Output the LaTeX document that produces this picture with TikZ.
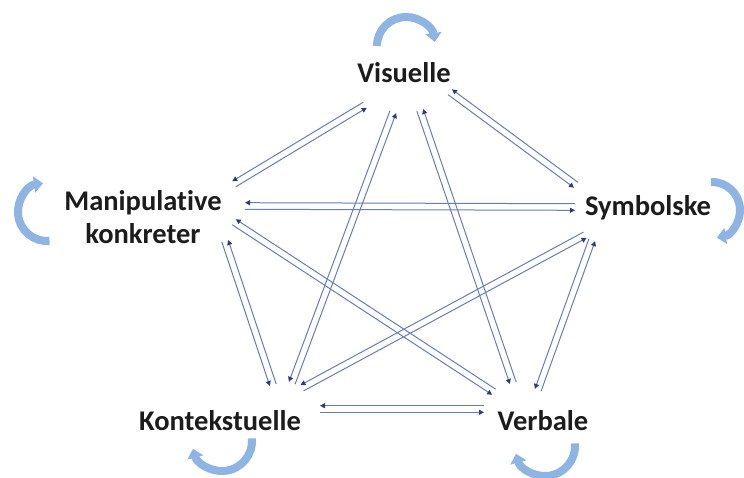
\documentclass[tikz,border=0pt]{standalone}
\usepackage{fontspec}
\setmainfont[Ligatures=NoCommon]{Carlito}
\usetikzlibrary{arrows.meta,calc}

\definecolor{linkblue}{RGB}{105,125,180}
\definecolor{tipblue}{RGB}{45,60,120}
\definecolor{cycleblue}{RGB}{142,180,227}
\definecolor{labelink}{RGB}{28,28,28}

% two parallel arrows between two named ends, one in each direction
\newcommand\twoway[2]{%
  \draw[link] ($(#1)!3.3pt!-90:(#2)$) -- ($(#2)!3.3pt!90:(#1)$);
  \draw[link] ($(#2)!3.3pt!-90:(#1)$) -- ($(#1)!3.3pt!90:(#2)$);}

\tikzset{
  lbl/.style={text=labelink, font=\fontsize{28.5}{33}\selectfont\bfseries, inner sep=0pt},
  link/.style={draw=linkblue, line width=1pt,
    -{Triangle[length=5pt,width=5pt,color=tipblue]}},
  cyclearrow/.style={draw=cycleblue, line width=8pt,
    -{Triangle[length=9pt,width=16pt]}}
}

\begin{document}
\begin{tikzpicture}[x=1pt,y=-1pt]
\useasboundingbox (0,0) rectangle (744,477);
\fill[white] (0,0) rectangle (744,477);

% labels
\node[lbl,anchor=base] (vis) at (404,82) {Visuelle};
\node[lbl,align=center] (man) at (143,217) {Manipulative\\konkreter};
\node[lbl,anchor=base] (sym) at (648,215) {Symbolske};
\node[lbl,anchor=base] (kon) at (220,430) {Kontekstuelle};
\node[lbl,anchor=base] (ver) at (543,430) {Verbale};

% connector ends around each label
\coordinate (vis-man) at (365,105);
\coordinate (man-vis) at (234,184);
\coordinate (vis-sym) at (450,92);
\coordinate (sym-vis) at (576,185);
\coordinate (vis-kon) at (393,112);
\coordinate (kon-vis) at (292,383);
\coordinate (vis-ver) at (420,110);
\coordinate (ver-vis) at (513,383);
\coordinate (man-sym) at (245,206);
\coordinate (sym-man) at (575,207);
\coordinate (man-kon) at (225,241);
\coordinate (kon-man) at (273,385);
\coordinate (man-ver) at (234,222);
\coordinate (ver-man) at (494,392);
\coordinate (sym-kon) at (585,235);
\coordinate (kon-sym) at (302,388);
\coordinate (sym-ver) at (592,240);
\coordinate (ver-sym) at (538,390);
\coordinate (kon-ver) at (320,409);
\coordinate (ver-kon) at (484,409);

\twoway{vis-man}{man-vis}
\twoway{vis-sym}{sym-vis}
\twoway{vis-kon}{kon-vis}
\twoway{vis-ver}{ver-vis}
\twoway{man-sym}{sym-man}
\twoway{man-kon}{kon-man}
\twoway{man-ver}{ver-man}
\twoway{sym-kon}{kon-sym}
\twoway{sym-ver}{ver-sym}
\twoway{kon-ver}{ver-kon}

% self-loops
\coordinate (vis-c) at (406,46);
\coordinate (man-c) at (47,212);
\coordinate (sym-c) at (712,210);
\coordinate (kon-c) at (222,441);
\coordinate (ver-c) at (545,446);
\draw[cyclearrow] ($(vis-c)+(180:29)$) arc[start angle=180,end angle=352,radius=29];
\draw[cyclearrow] ($(man-c)+(85:29)$) arc[start angle=85,end angle=262,radius=29];
\draw[cyclearrow] ($(sym-c)+(268:28)$) arc[start angle=268,end angle=440,radius=28];
\draw[cyclearrow] ($(kon-c)+(-5:30)$) arc[start angle=-5,end angle=165,radius=30];
\draw[cyclearrow] ($(ver-c)+(-5:30)$) arc[start angle=-5,end angle=165,radius=30];
\end{tikzpicture}
\end{document}
